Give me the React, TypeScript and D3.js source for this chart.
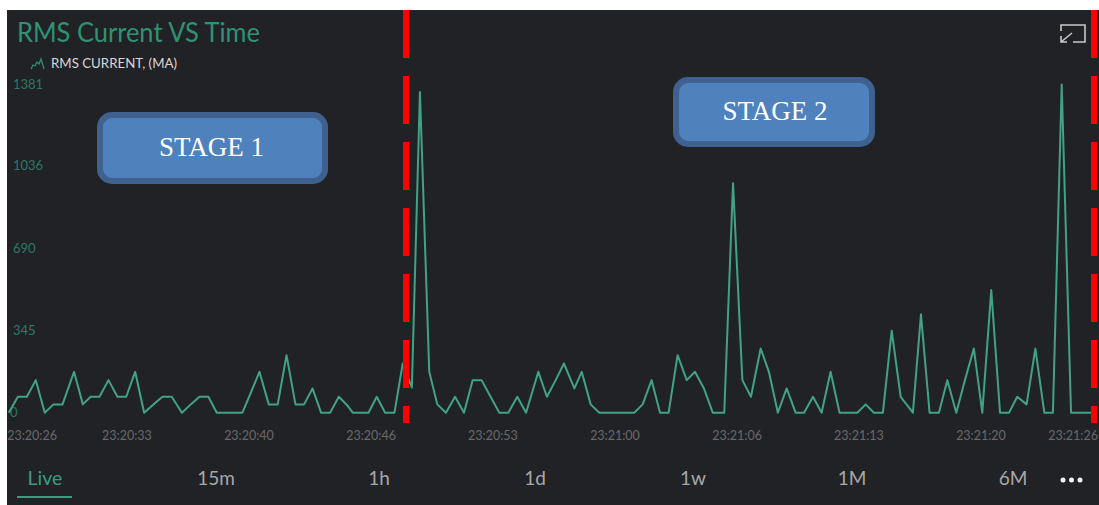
import React from 'react';
import * as d3 from 'd3';

// seconds after 23:20:00
const sampleSeconds = [26.87,27.37,27.86,28.35,28.84,29.31,29.81,30.44,30.92,31.35,31.83,32.32,32.81,33.29,33.78,34.27,34.78,35.27,35.78,36.33,36.82,37.29,37.78,38.24,38.73,39.2,39.64,40.1,40.57,41.08,41.57,42.05,42.54,43.01,43.47,43.94,44.43,44.91,45.4,45.67,46.07,46.53,46.98,47.44,47.95,48.4,48.9,49.34,49.85,50.29,50.76,51.26,51.75,52.22,52.71,53.2,53.68,54.17,54.66,55.14,55.81,56.28,56.76,57.21,57.78,58.18,58.67,59.14,59.63,60.09,60.58,61.05,61.51,62,62.46,62.93,63.42,63.92,64.37,64.86,65.34,65.97,66.45,66.96,67.43,67.96,68.41,68.9,69.38,69.87,70.33,70.82,71.29,71.78,72.27,72.75,73.24,73.7,74.15,74.64,75.12,75.61,76.28,76.72,77.19,77.7,78.16,78.65,79.12,79.61,80.07,80.56,81.04,81.53,81.98,82.49,82.97,83.46,83.93,84.41,84.92,85.53,86.08];
const rmsCurrent = [0,67,67,137,0,35,35,172,35,67,67,137,67,67,172,0,35,67,67,0,35,67,67,0,0,0,0,84,172,35,35,242,35,35,102,0,0,67,28,0,0,0,67,0,0,207,106,1349,172,35,0,67,0,137,137,67,0,0,67,0,172,67,137,207,102,172,35,0,0,0,0,0,35,137,0,0,242,137,172,102,0,0,966,137,67,270,172,0,102,0,0,67,0,172,0,0,0,35,0,0,345,67,0,414,0,0,137,0,137,270,0,516,0,0,67,35,270,0,0,1381,0,0,0];
const yTicks = [0,345,690,1036,1381];
const xTickSeconds = [26.67,33.33,40,46.67,53.33,60,66.67,73.33,80,86.67];
const xTickLabels = ['23:20:26','23:20:33','23:20:40','23:20:46','23:20:53','23:21:00','23:21:06','23:21:13','23:21:20','23:21:26'];
const ranges = ['15m','1h','1d','1w','1M','6M'];
const rangeCenters = [216,379,535,693,852,1013];
const stageLabels = ['STAGE 1','STAGE 2'];

const FONT = "Lato, Roboto, sans-serif";

export default function App() {
  const x = d3.scaleLinear().domain([40,80]).range([249,981]);
  const y = d3.scaleLinear().domain([0,1381]).range([412.7,84.5]);
  const line = d3.line<number>().x((_, i) => x(sampleSeconds[i])).y(d => y(d));
  const d = line(rmsCurrent) || '';
  const stages = [
    {x:100,y:115,w:225,h:66,tx:211.5,ty:156},
    {x:676,y:80,w:196,h:64,tx:775,ty:120},
  ];
  return (
    <svg width={1099} height={505} style={{position:'absolute',left:0,top:0,display:'block',background:'#fff'}}>
      <defs>
        <clipPath id="panel"><rect x={7} y={10} width={1092} height={495}/></clipPath>
      </defs>
      <rect x={7} y={10} width={1092} height={495} fill="#212226"/>
      <g clipPath="url(#panel)">
        <text x={17} y={42} fontFamily={FONT} fontWeight={400} fontSize={27} fill="#2f9272" textLength={243} lengthAdjust="spacingAndGlyphs">RMS Current VS Time</text>
        <path d="M31 69 L33 65 L35 66 L37 62 L39 64 L41 59 L44 69" fill="none" stroke="#2f8f70" strokeWidth={1.3}/>
        <text x={51} y={68} fontFamily={FONT} fontSize={13} fill="#d8d8d8" textLength={126} lengthAdjust="spacingAndGlyphs">RMS CURRENT, (MA)</text>
        {yTicks.map(t => (
          <text key={t} x={t===0?10:13} y={y(t)+4} fontFamily={FONT} fontSize={13} fill="#2b7a63">{t}</text>
        ))}
        {xTickSeconds.map((t,i) => (
          <text key={t} x={i===xTickSeconds.length-1?1098:x(t)} dx={i===0?27:0} y={440} textAnchor={i===xTickSeconds.length-1?'end':'middle'} fontFamily={FONT} fontSize={12.5} fill="#69696c">{xTickLabels[i]}</text>
        ))}
        <path d={d} fill="none" stroke="#42a285" strokeWidth={2} strokeLinejoin="round"/>
        <text x={45} y={485} textAnchor="middle" fontFamily={FONT} fontSize={19.5} fill="#3d9a7e">Live</text>
        <rect x={17} y={496} width={55} height={2} fill="#3d9a7e"/>
        {ranges.map((r,i) => (
          <text key={r} x={rangeCenters[i]} y={485} textAnchor="middle" fontFamily={FONT} fontSize={19} fill="#a8a8aa">{r}</text>
        ))}
        {[1063,1071.5,1080].map(c => <circle key={c} cx={c} cy={480} r={2.5} fill="#f2f2f2"/>)}
        <path d="M1061 31 L1061 25 L1085 25 L1085 42 L1073 42 M1072 33 L1061 42 M1061 36 L1061 42 L1067 42" fill="none" stroke="#c8c8c8" strokeWidth={1.6}/>
      </g>
      {[406,1094].map(cx => (
        <line key={cx} x1={cx} x2={cx} y1={10} y2={423} stroke="#ff0000" strokeWidth={6} strokeDasharray="48 18"/>
      ))}
      {stages.map((s,i) => (
        <g key={i}>
          <rect x={s.x} y={s.y} width={s.w} height={s.h} rx={12} fill="#4f81bd" stroke="#3f6190" strokeWidth={6}/>
          <text x={s.tx} y={s.ty} textAnchor="middle" fontFamily="'Liberation Serif', serif" fontSize={27} fill="#fff">{stageLabels[i]}</text>
        </g>
      ))}
    </svg>
  );
}
